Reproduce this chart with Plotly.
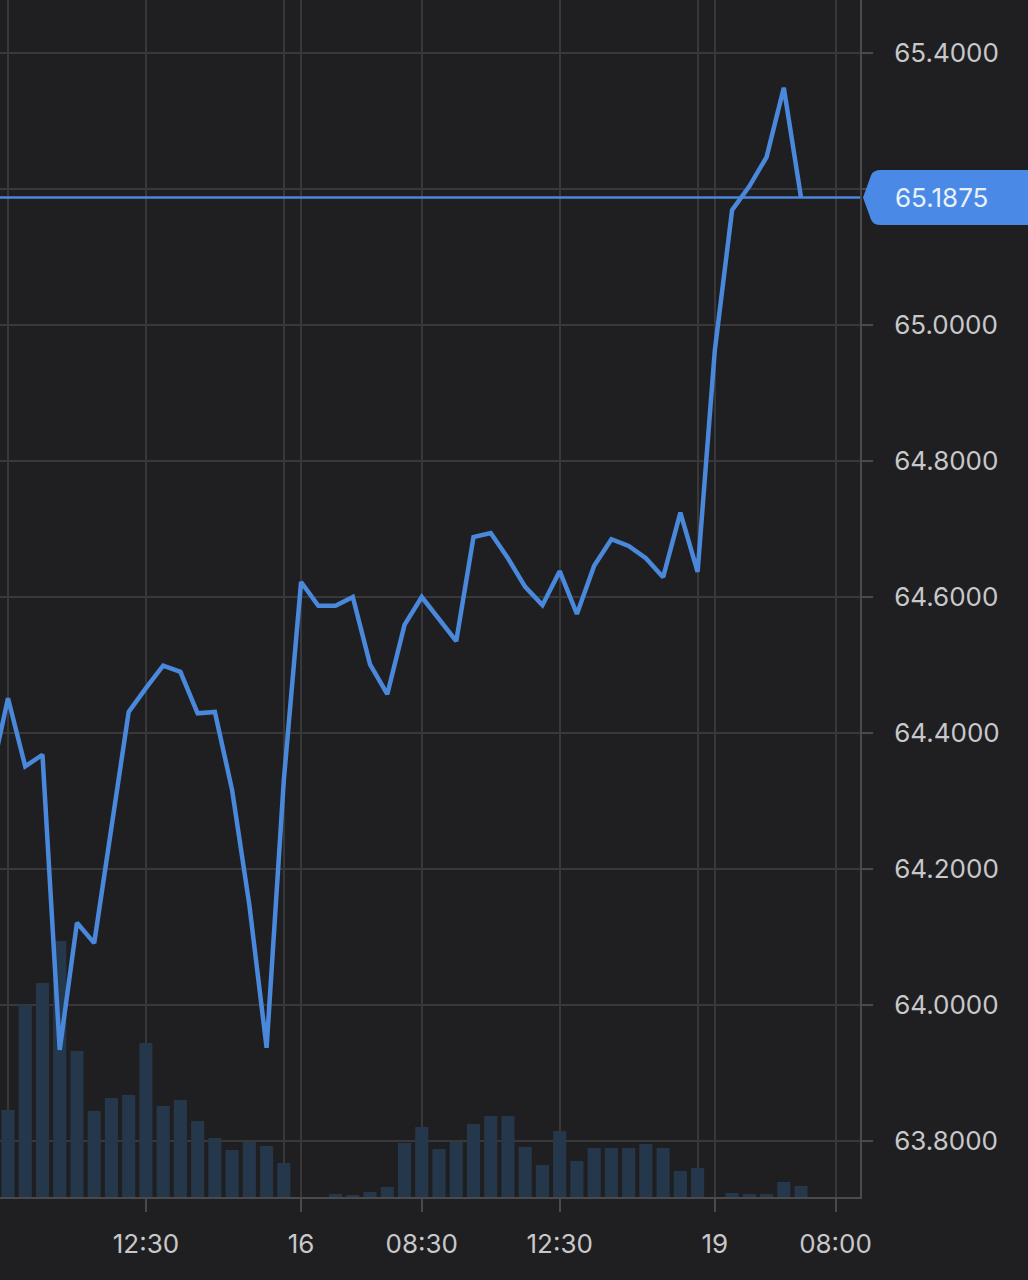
import plotly.graph_objects as go

# ---- data ----
price_idx = list(range(-1, 47))
price = [64.334, 64.451, 64.351, 64.368, 63.934, 64.121, 64.091, 64.265, 64.431, 64.466,
         64.499, 64.490, 64.429, 64.431, 64.316, 64.147, 63.937, 64.331, 64.622, 64.587,
         64.587, 64.600, 64.501, 64.457, 64.559, 64.600, 64.568, 64.535, 64.688, 64.694,
         64.657, 64.615, 64.588, 64.638, 64.575, 64.646, 64.685, 64.675, 64.657, 64.629,
         64.724, 64.637, 64.963, 65.169, 65.204, 65.247, 65.349, 65.1875]
volume_idx = list(range(0, 47))
volume = [87, 192, 214, 256, 146, 86, 99, 102, 154, 91,
          97, 76, 59, 47, 55, 51, 34, 0, 0, 3,
          2, 5, 10, 54, 70, 48, 55, 73, 81, 81,
          50, 32, 66, 36, 49, 49, 49, 53, 49, 26,
          29, 0, 4, 3, 3, 15, 11]
last_price = 65.1875
x_tick_pos = [8, 17, 24, 32, 41, 48]
x_tick_labels = ["12:30", "16", "08:30", "12:30", "19", "08:00"]
x_minor_grid = [0, 16, 40]
y_ticks = [63.8, 64.0, 64.2, 64.4, 64.6, 64.8, 65.0, 65.2, 65.4]
# the 65.2000 label sits hidden behind the last-price box in the reference
y_tick_labels = ["" if abs(v - 65.2) < 1e-9 else f"{v:.4f}" for v in y_ticks]

BG = "#1f1f21"
GRID = "#38383b"
AXIS = "#4a4a4d"
BLUE = "#4a88dc"
TXT = "#c8c8cb"
FONT = "Inter"

W, H = 1028, 1280
plot_w, plot_h = 860, 1197
x_range = [-8 / 17.24, (860 - 8) / 17.24]
y_range = [63.7176, 65.478]

fig = go.Figure()

# volume on the base (hidden) axis so the price line is drawn above it
fig.add_trace(go.Bar(x=volume_idx, y=volume, marker=dict(color="#25374b", line=dict(width=0)),
                     yaxis="y", xaxis="x", width=0.76, showlegend=False, hoverinfo="skip"))

fig.add_trace(go.Scatter(x=price_idx, y=price, mode="lines", yaxis="y2",
                         line=dict(color=BLUE, width=4.5), showlegend=False, cliponaxis=True))

# last price line
fig.add_shape(type="line", xref="paper", yref="y2", x0=0, x1=1, y0=last_price, y1=last_price,
              line=dict(color=BLUE, width=2.5), layer="above")

# last price label box (pointed left edge)
def px(p):
    return p / plot_w

hy = 27.5 / 680.0
y0 = last_price
path = (f"M {px(863)},{y0} "
        f"L {px(871)},{y0 + hy * 0.8} "
        f"Q {px(873)},{y0 + hy} {px(881)},{y0 + hy} "
        f"L {px(1040)},{y0 + hy} "
        f"L {px(1040)},{y0 - hy} "
        f"L {px(881)},{y0 - hy} "
        f"Q {px(873)},{y0 - hy} {px(871)},{y0 - hy * 0.8} Z")
fig.add_shape(type="path", path=path, xref="paper", yref="y2",
              fillcolor="#4a8ae6", line=dict(width=0), layer="above")
fig.add_annotation(x=px(941), y=last_price, xref="paper", yref="y2",
                   text=f"{last_price:.4f}", showarrow=False,
                   font=dict(family=FONT, size=26, color="#eaf1fb"),
                   xanchor="center", yanchor="middle")

fig.update_layout(
    width=W, height=H,
    paper_bgcolor=BG, plot_bgcolor=BG,
    margin=dict(l=0, r=W - plot_w, t=0, b=H - plot_h),
    bargap=0.25,
    xaxis=dict(range=x_range, tickmode="array", tickvals=x_tick_pos, ticktext=x_tick_labels,
               showgrid=True, gridcolor=GRID, gridwidth=1.5, zeroline=False,
               showline=True, linecolor=AXIS, linewidth=2,
               ticks="outside", ticklen=13, tickcolor=AXIS, tickwidth=1.5,
               tickfont=dict(family=FONT, size=26, color=TXT), ticklabelstandoff=10),
    xaxis2=dict(range=x_range, overlaying="x", tickmode="array", tickvals=x_minor_grid,
                showgrid=True, gridcolor=GRID, gridwidth=1.5, showticklabels=False,
                zeroline=False, showline=False, ticks=""),
    yaxis=dict(range=[0, plot_h], showgrid=False, zeroline=False, showticklabels=False,
               ticks="", showline=False, fixedrange=True),
    yaxis2=dict(range=y_range, overlaying="y", side="right", tickmode="array", tickvals=y_ticks,
                ticktext=y_tick_labels, showgrid=True, gridcolor=GRID, gridwidth=1.5,
                zeroline=False, showline=True, linecolor=AXIS, linewidth=2,
                ticks="outside", ticklen=11, tickcolor=AXIS, tickwidth=1.5,
                tickfont=dict(family=FONT, size=26, color=TXT), ticklabelstandoff=16),
    font=dict(family=FONT),
)

# dummy trace to activate xaxis2 gridlines
fig.add_trace(go.Scatter(x=[x_minor_grid[0]], y=[price[1]], xaxis="x2", yaxis="y2", mode="markers",
                         marker=dict(opacity=0), showlegend=False, hoverinfo="skip"))

fig.write_html("out.html", config={"displayModeBar": False},
               post_script="document.body.style.margin='0';document.body.style.background='#1f1f21';")
